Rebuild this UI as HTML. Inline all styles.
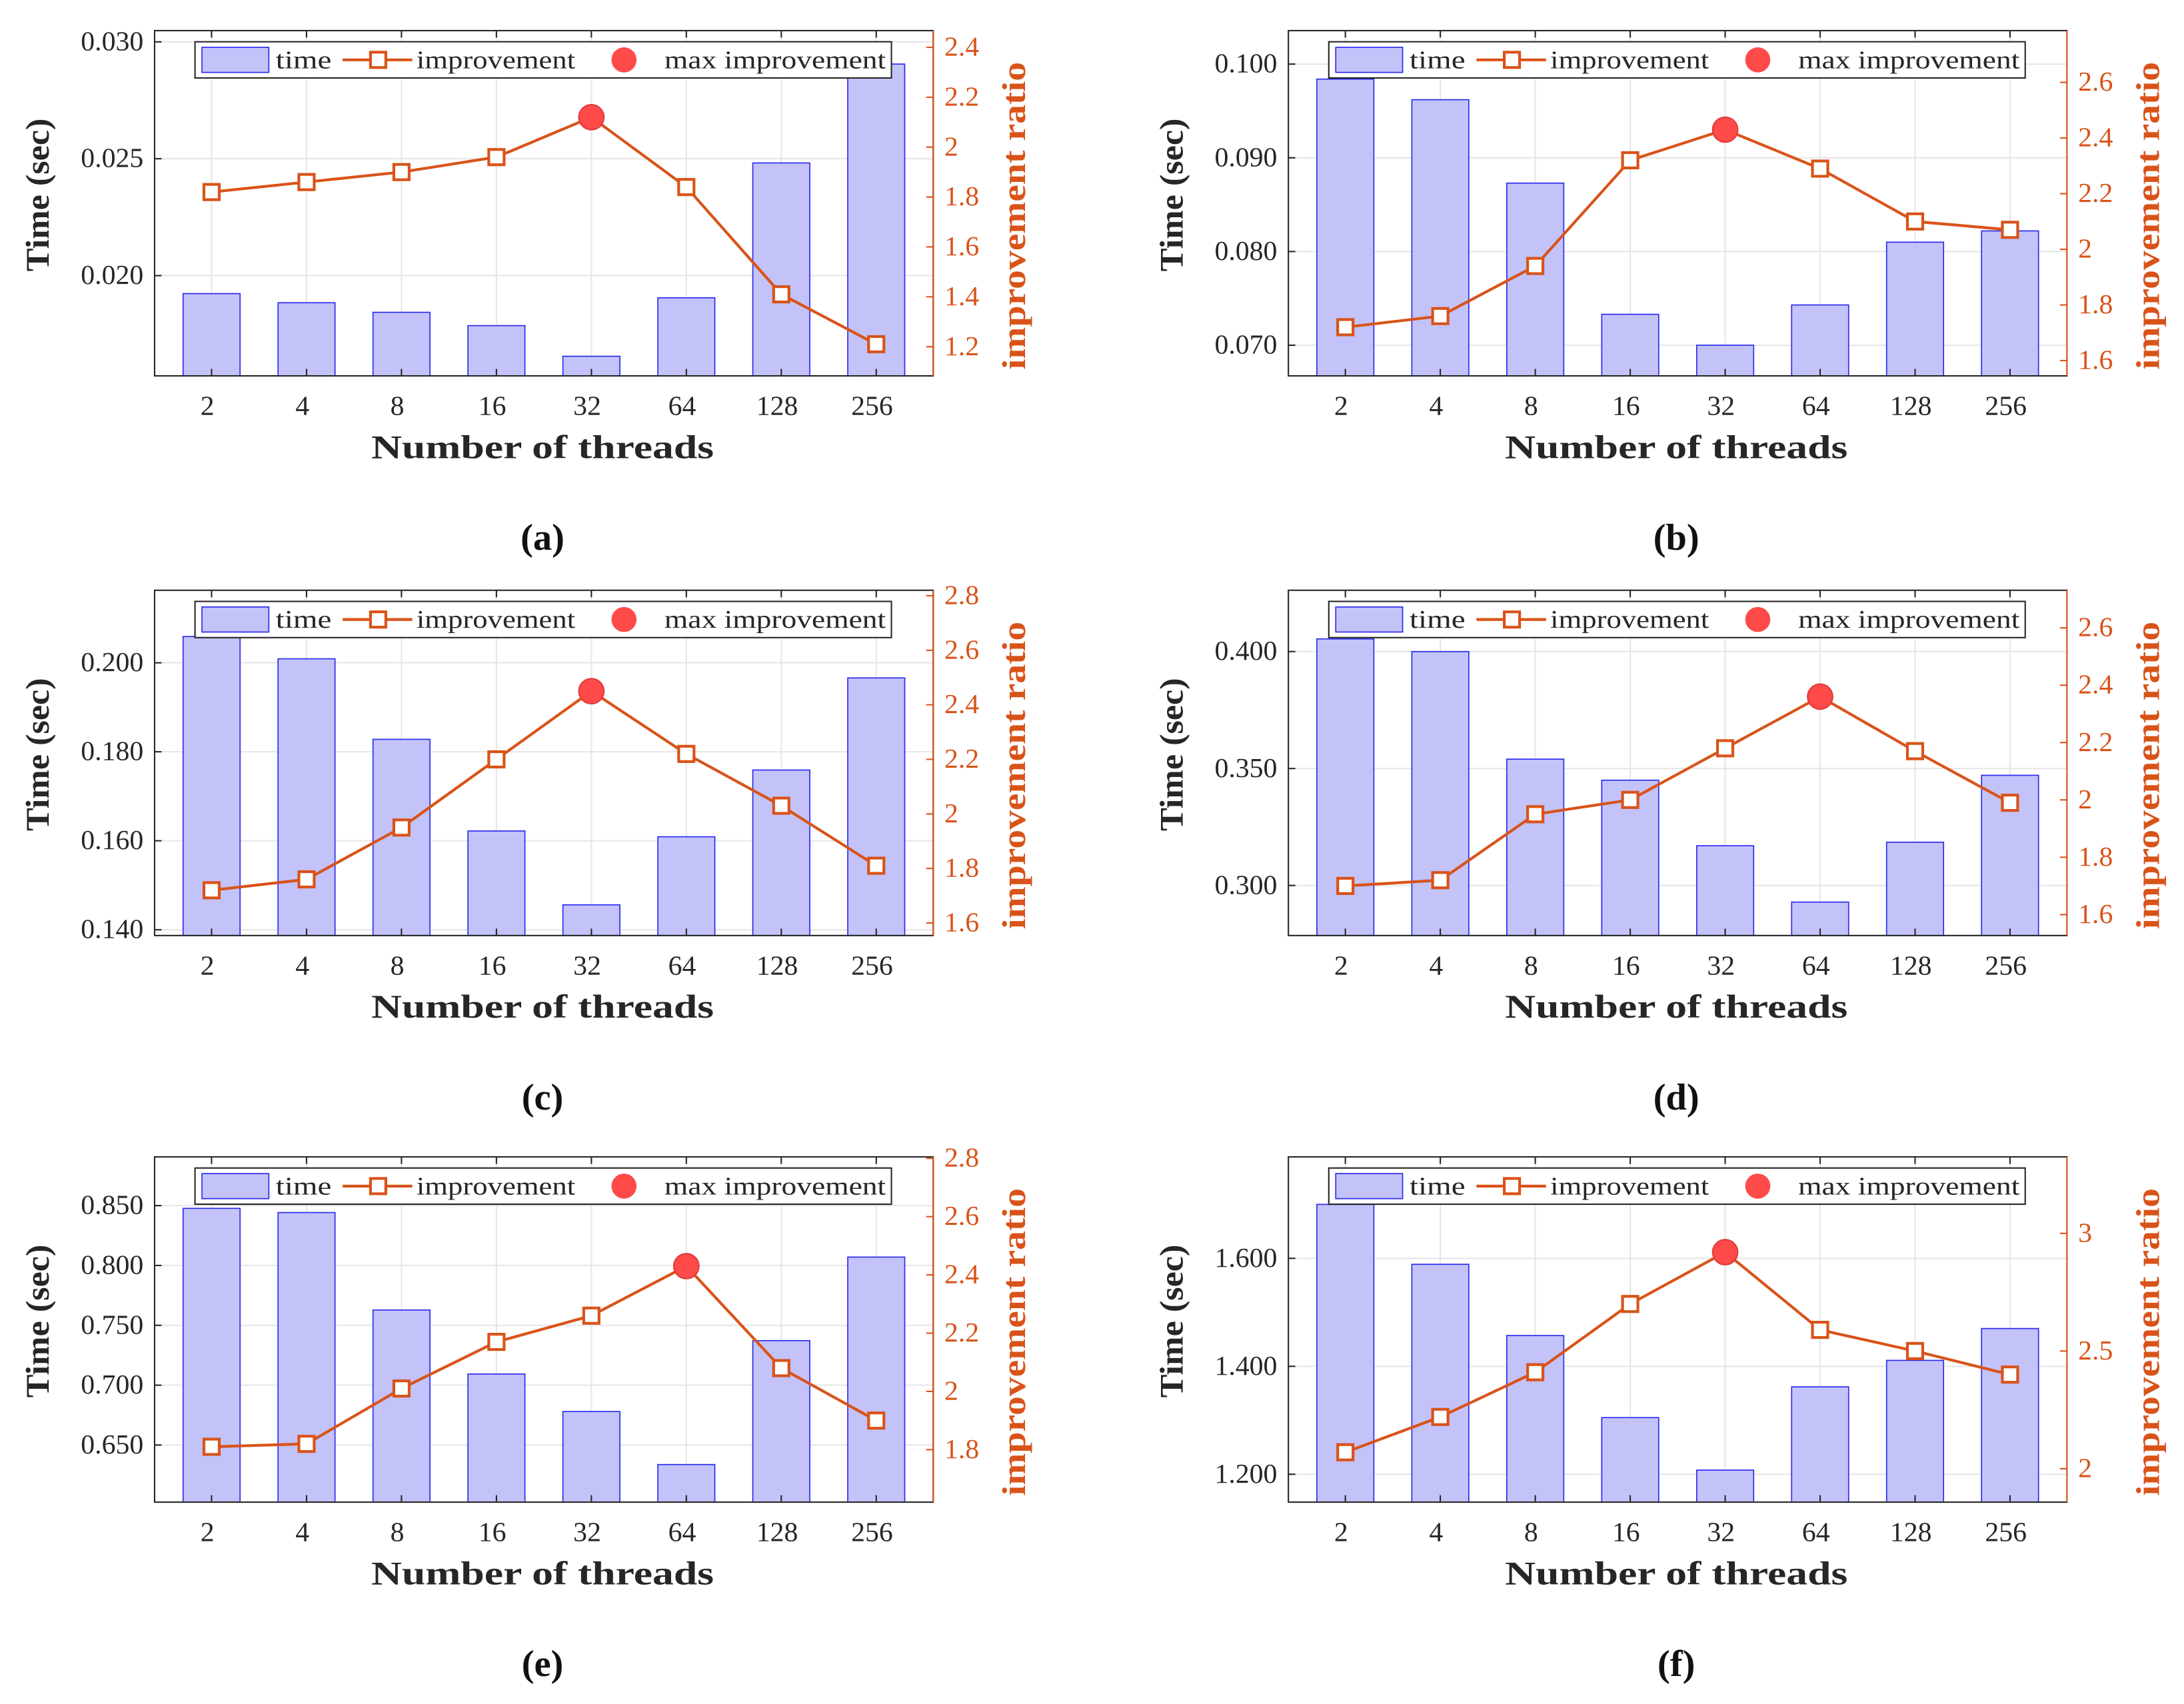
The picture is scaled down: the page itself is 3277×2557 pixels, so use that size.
<!DOCTYPE html>
<html><head><meta charset="utf-8"><style>
html,body{margin:0;padding:0;background:#fff;}
svg{display:block;}
text{font-family:"Liberation Serif",serif;}
</style></head><body>
<svg id="fig" width="3277" height="2557" viewBox="0 0 1568 1224" preserveAspectRatio="none" xmlns="http://www.w3.org/2000/svg"></svg>
<script>
const categories = ["2","4","8","16","32","64","128","256"];
const timeA = [0.01923,0.01884,0.01843,0.01786,0.01655,0.01905,0.02482,0.02905];
const ratioA = [1.82,1.86,1.90,1.96,2.12,1.84,1.41,1.21];
const timeB = [0.0984,0.0962,0.0873,0.0733,0.0700,0.0743,0.0810,0.0822];
const ratioB = [1.72,1.76,1.94,2.32,2.43,2.29,2.10,2.07];
const timeC = [0.2059,0.2009,0.1828,0.1622,0.1456,0.1609,0.1759,0.1966];
const ratioC = [1.72,1.76,1.95,2.20,2.45,2.22,2.03,1.81];
const timeD = [0.4054,0.400,0.354,0.345,0.317,0.2929,0.3185,0.3471];
const ratioD = [1.70,1.72,1.95,2.00,2.18,2.36,2.17,1.99];
const timeE = [0.8477,0.8442,0.7628,0.7093,0.678,0.6337,0.7372,0.807];
const ratioE = [1.81,1.82,2.01,2.17,2.26,2.43,2.08,1.90];
const timeF = [1.700,1.589,1.457,1.305,1.2077,1.362,1.411,1.470];
const ratioF = [2.07,2.22,2.41,2.70,2.92,2.59,2.50,2.40];
const leftTicksA = [0.020,0.025,0.030], leftLabelsA = ["0.020","0.025","0.030"];
const rightTicksA = [1.2,1.4,1.6,1.8,2,2.2,2.4];
const leftTicksB = [0.070,0.080,0.090,0.100], leftLabelsB = ["0.070","0.080","0.090","0.100"];
const rightTicksB = [1.6,1.8,2,2.2,2.4,2.6];
const leftTicksC = [0.140,0.160,0.180,0.200], leftLabelsC = ["0.140","0.160","0.180","0.200"];
const rightTicksC = [1.6,1.8,2,2.2,2.4,2.6,2.8];
const leftTicksD = [0.300,0.350,0.400], leftLabelsD = ["0.300","0.350","0.400"];
const rightTicksD = [1.6,1.8,2,2.2,2.4,2.6];
const leftTicksE = [0.650,0.700,0.750,0.800,0.850], leftLabelsE = ["0.650","0.700","0.750","0.800","0.850"];
const rightTicksE = [1.8,2,2.2,2.4,2.6,2.8];
const leftTicksF = [1.2,1.4,1.6], leftLabelsF = ["1.200","1.400","1.600"];
const rightTicksF = [2,2.5,3];

const NS="http://www.w3.org/2000/svg";
const svg=document.getElementById('fig');
const ORANGE="#D95319";
function mk(tag,attrs,parent){const e=document.createElementNS(NS,tag);for(const k in attrs)e.setAttribute(k,attrs[k]);(parent||svg).appendChild(e);return e;}
function fmtR(v){return (Math.round(v*10)/10).toString();}

function panel(cfg){
  const g=mk('g',{});
  
  
  const x0=cfg.x,y0=cfg.y,W=559,H=248;
  const xs=i=>x0+(i+1-0.4)*W/8.2;
  const yl=v=>y0+H-(v-cfg.lmin)/(cfg.lmax-cfg.lmin)*H;
  const yr=v=>y0+H-(v-cfg.rmin)/(cfg.rmax-cfg.rmin)*H;
  categories.forEach((c,i)=>{const l=mk('line',{x1:xs(i),x2:xs(i),y1:y0,y2:y0+H,stroke:'#e6e6e6','stroke-width':1},g);
    });
  cfg.lt.forEach(v=>{const l=mk('line',{x1:x0,x2:x0+W,y1:yl(v),y2:yl(v),stroke:'#e6e6e6','stroke-width':1},g);
    });
  cfg.time.forEach((v,i)=>{const bw=0.6*W/8.2;const top=Math.max(yl(v),y0);
    const r=mk('rect',{x:xs(i)-bw/2,y:top,width:bw,height:y0+H-top,fill:'#c3c3fa',stroke:'#2a2af0','stroke-width':0.8},g);
    });
  const bx=mk('rect',{x:x0,y:y0,width:W,height:H,fill:'none',stroke:'#262626','stroke-width':1},g);
  
  mk('line',{x1:x0+W,x2:x0+W,y1:y0,y2:y0+H,stroke:ORANGE,'stroke-width':1},g);
  categories.forEach((c,i)=>{mk('line',{x1:xs(i),x2:xs(i),y1:y0+H,y2:y0+H-5,stroke:'#262626'},g);
    mk('line',{x1:xs(i),x2:xs(i),y1:y0,y2:y0+5,stroke:'#262626'},g);
    const t=mk('text',{x:xs(i)-3,y:y0+H+28,'font-size':20,'text-anchor':'middle',fill:'#262626'},g);t.textContent=c;
    });
  cfg.lt.forEach((v,i)=>{mk('line',{x1:x0,x2:x0+5,y1:yl(v),y2:yl(v),stroke:'#262626'},g);
    const t=mk('text',{x:x0-8,y:yl(v)+6,'font-size':20,'text-anchor':'end',fill:'#262626'},g);t.textContent=cfg.ll[i];
    });
  cfg.rt.forEach(v=>{mk('line',{x1:x0+W,x2:x0+W-5,y1:yr(v),y2:yr(v),stroke:ORANGE},g);
    const t=mk('text',{x:x0+W+8,y:yr(v)+6,'font-size':20,fill:ORANGE},g);t.textContent=fmtR(v);
    });
  const pts=cfg.ratio.map((v,i)=>xs(i)+','+yr(v)).join(' ');
  const pl=mk('polyline',{points:pts,fill:'none',stroke:ORANGE,'stroke-width':2},g);
  
  let mi=0;cfg.ratio.forEach((v,i)=>{if(v>cfg.ratio[mi])mi=i;});
  cfg.ratio.forEach((v,i)=>{ if(i===mi)return;
    const s=mk('rect',{x:xs(i)-5.5,y:yr(v)-5.5,width:11,height:11,fill:'#fff',stroke:ORANGE,'stroke-width':2},g);
    });
  const mc=mk('circle',{cx:xs(mi),cy:yr(cfg.ratio[mi]),r:9,fill:'#ff4a4a',stroke:'#e03a3a','stroke-width':1},g);
  
  const lx=x0+29,ly=y0+8;
  const lg=mk('g',{},g);
  mk('rect',{x:lx,y:ly,width:500,height:26,fill:'#fff',stroke:'#262626','stroke-width':1},lg);
  mk('rect',{x:lx+5,y:ly+4,width:48,height:18,fill:'#c3c3fa',stroke:'#2a2af0','stroke-width':0.8},lg);
  let t=mk('text',{x:lx+58,y:ly+19,'font-size':18,fill:'#262626',textLength:40,lengthAdjust:'spacingAndGlyphs'},lg);t.textContent='time';
  
  mk('line',{x1:lx+106,x2:lx+156,y1:ly+13,y2:ly+13,stroke:ORANGE,'stroke-width':2},lg);
  mk('rect',{x:lx+126,y:ly+7.5,width:11,height:11,fill:'#fff',stroke:ORANGE,'stroke-width':2},lg);
  t=mk('text',{x:lx+159,y:ly+19,'font-size':18,fill:'#262626',textLength:114,lengthAdjust:'spacingAndGlyphs'},lg);t.textContent='improvement';
  
  mk('circle',{cx:lx+308,cy:ly+13,r:9,fill:'#ff4a4a'},lg);
  t=mk('text',{x:lx+337,y:ly+19,'font-size':18,fill:'#262626',textLength:159,lengthAdjust:'spacingAndGlyphs'},lg);t.textContent='max improvement';
  
  t=mk('text',{x:x0+W/2-1,y:y0+H+59,'font-size':24,'font-weight':'bold','text-anchor':'middle',fill:'#262626',textLength:246,lengthAdjust:'spacingAndGlyphs'},g);t.textContent='Number of threads';
  
  t=mk('text',{x:0,y:0,'font-size':24,'font-weight':'bold','text-anchor':'middle',fill:'#262626',textLength:110,lengthAdjust:'spacingAndGlyphs',transform:`translate(${x0-76},${y0+H/2-6}) rotate(-90)`},g);t.textContent='Time (sec)';
  
  t=mk('text',{x:0,y:0,'font-size':24,'font-weight':'bold','text-anchor':'middle',fill:ORANGE,textLength:221,lengthAdjust:'spacingAndGlyphs',transform:`translate(${x0+W+66},${y0+H/2+9}) rotate(-90)`},g);t.textContent='improvement ratio';
  
  t=mk('text',{x:x0+W/2-1,y:y0+H+125,'font-size':27,'font-weight':'bold','text-anchor':'middle',fill:'#111'},g);t.textContent='('+cfg.letter+')';
  
}
panel({letter:'a',x:111,y:22,time:timeA,ratio:ratioA,lmin:0.01571,lmax:0.03048,rmin:1.083,rmax:2.467,lt:leftTicksA,ll:leftLabelsA,rt:rightTicksA});
panel({letter:'b',x:925,y:22,time:timeB,ratio:ratioB,lmin:0.06673,lmax:0.10357,rmin:1.545,rmax:2.786,lt:leftTicksB,ll:leftLabelsB,rt:rightTicksB});
panel({letter:'c',x:111,y:424,time:timeC,ratio:ratioC,lmin:0.1387,lmax:0.2163,rmin:1.554,rmax:2.82,lt:leftTicksC,ll:leftLabelsC,rt:rightTicksC});
panel({letter:'d',x:925,y:424,time:timeD,ratio:ratioD,lmin:0.2786,lmax:0.4262,rmin:1.527,rmax:2.731,lt:leftTicksD,ll:leftLabelsD,rt:rightTicksD});
panel({letter:'e',x:111,y:831,time:timeE,ratio:ratioE,lmin:0.6023,lmax:0.8907,rmin:1.62,rmax:2.805,lt:leftTicksE,ll:leftLabelsE,rt:rightTicksE});
panel({letter:'f',x:925,y:831,time:timeF,ratio:ratioF,lmin:1.1484,lmax:1.788,rmin:1.858,rmax:3.325,lt:leftTicksF,ll:leftLabelsF,rt:rightTicksF});
</script>
</body></html>
